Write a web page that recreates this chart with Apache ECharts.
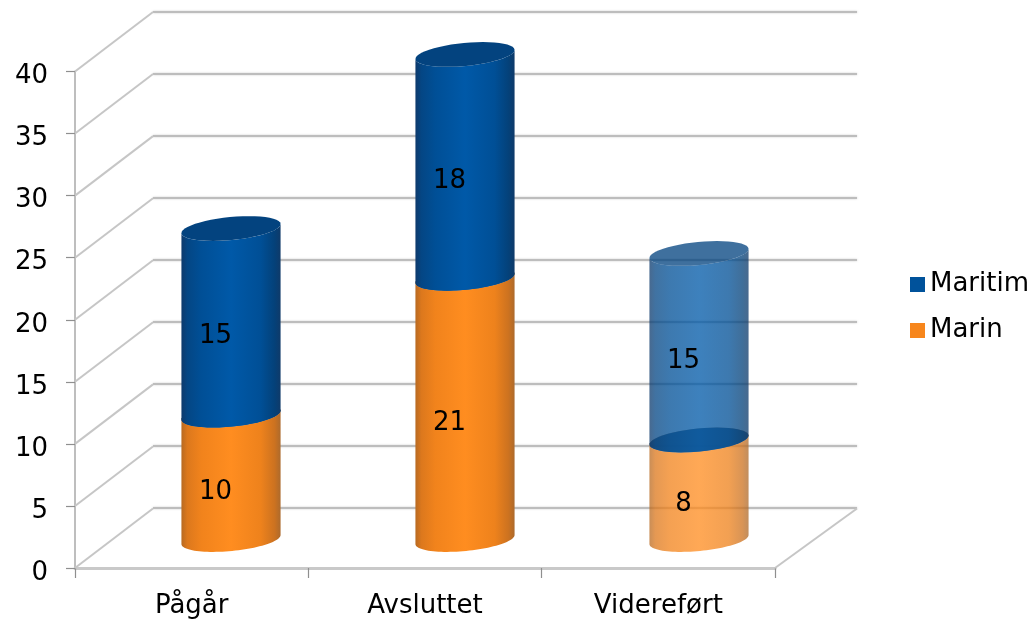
<!DOCTYPE html>
<html><head><meta charset="utf-8">
<style>html,body{margin:0;padding:0;background:#fff}#c{width:1034px;height:621px}</style>
<script src="https://cdn.jsdelivr.net/npm/echarts@6/dist/echarts.min.js"></script>
</head><body><div id="c"></div>
<script>
const categories = ['Pågår', 'Avsluttet', 'Videreført'];
const marin = [10, 21, 8];
const maritim = [15, 18, 15];
const ticks = [0, 5, 10, 15, 20, 25, 30, 35, 40];
const faded = [false, false, true];

const FONT = '"DejaVu Sans", Verdana, sans-serif';
const DEPTH_X = 78, DEPTH_Y = -59.5;
const RX = 49.8, RY = 11.5, TILT = -5.5 * Math.PI / 180;

function ellipsePt(cx, cy, a) {
  const x = RX * Math.cos(a), y = RY * Math.sin(a);
  return [cx + x * Math.cos(TILT) - y * Math.sin(TILT), cy + x * Math.sin(TILT) + y * Math.cos(TILT)];
}
function arcPts(cx, cy, from, to) {
  const n = 48, out = [];
  for (let i = 0; i <= n; i++) out.push(ellipsePt(cx, cy, from + (to - from) * i / n));
  return out;
}
function grad(stops) {
  return { type: 'linear', x: 0, y: 0, x2: 1, y2: 0, colorStops: stops.map(s => ({ offset: s[0], color: s[1] })) };
}
const bluePal = {
  body: grad([[0, '#0e3a6c'], [0.06, '#044684'], [0.2, '#004f96'], [0.5, '#0059a8'], [0.8, '#004f96'], [0.94, '#044179'], [1, '#0f3a69']]),
  cap: '#03437f'
};
const orangePal = {
  body: grad([[0, '#b86a22'], [0.06, '#dc781d'], [0.2, '#f1831c'], [0.5, '#ff8d20'], [0.8, '#ee821c'], [0.94, '#cc7220'], [1, '#ad6a2c']]),
  cap: '#ee8a2c'
};

function cylinder(pal) {
  return function (params, api) {
    const i = api.value(0), start = api.value(1), end = api.value(2);
    const b = api.coord([i, start]), t = api.coord([i, end]);
    const opacity = faded[i] ? 0.76 : 1;
    const cx = b[0];
    const children = [];
    if (start > 0) {
      children.push({ type: 'polygon', shape: { points: arcPts(cx, b[1], 0, Math.PI * 2) },
        style: { fill: '#0a4a86', opacity: opacity } });
    }
    // Body: upper edge follows the front arc of the top face, lower edge the front arc of the base.
    const outline = arcPts(cx, t[1], Math.PI, 0).concat(arcPts(cx, b[1], 0, Math.PI));
    children.push({ type: 'polygon', shape: { points: outline }, style: { fill: pal.body, opacity: opacity } });
    children.push({ type: 'polygon', shape: { points: arcPts(cx, t[1], 0, Math.PI * 2) },
      style: { fill: pal.cap, opacity: opacity } });
    const mid = api.coord([i, (start + end) / 2]);
    children.push({ type: 'text', z2: 10, style: {
      text: String(end - start), x: cx - 15.5, y: mid[1] + 14.5, align: 'center', verticalAlign: 'middle',
      fill: '#000', font: '26px ' + FONT } });
    return { type: 'group', children: children };
  };
}

const chart = echarts.init(document.getElementById('c'), null, { renderer: 'canvas' });
chart.setOption({
  animation: false,
  backgroundColor: '#fff',
  legend: {
    data: ['Maritim', 'Marin'], orient: 'vertical', left: 910, top: 271.5, itemWidth: 15, itemHeight: 15, icon: 'rect',
    itemGap: 20, padding: 0, selectedMode: false,
    textStyle: { fontFamily: FONT, fontSize: 26, color: '#000' }
  },
  grid: [
    { left: 75, width: 700, top: 71.5, height: 496.5 },
    { left: 153, width: 704, top: 12, height: 496 },
    { left: 114, width: 702, top: 42, height: 497.5 }
  ],
  xAxis: [
    { gridIndex: 0, type: 'category', data: categories, boundaryGap: true,
      axisLine: { lineStyle: { color: '#c9c9c9', width: 3 } },
      axisTick: { show: true, alignWithLabel: false, length: 10, lineStyle: { color: '#8f8f8f', width: 1.2 } },
      axisLabel: { fontFamily: FONT, fontSize: 26, color: '#000', margin: 25, interval: 0 } },
    { gridIndex: 1, type: 'category', data: categories, show: false },
    { gridIndex: 2, type: 'category', data: categories, show: false }
  ],
  yAxis: [
    { gridIndex: 0, type: 'value', min: 0, max: 40, interval: 5,
      axisLine: { show: true, lineStyle: { color: '#a8a8a8', width: 1.5 } },
      axisTick: { show: true, length: 9, lineStyle: { color: '#8f8f8f', width: 1.2 } },
      axisLabel: { fontFamily: FONT, fontSize: 26, color: '#000', margin: 27, verticalAlign: 'top', lineHeight: 10,
        formatter: v => (ticks.includes(v) ? String(v) : '') },
      splitLine: { show: false } },
    { gridIndex: 1, type: 'value', min: 0, max: 40, interval: 5,
      axisLine: { show: false }, axisTick: { show: false }, axisLabel: { show: false },
      splitLine: { show: true, lineStyle: { color: '#bdbdbd', width: 2, shadowColor: 'rgba(150,150,150,0.5)', shadowBlur: 2 } } },
    { gridIndex: 2, type: 'value', min: 0, max: 40, interval: 5, show: false }
  ],
  series: [
    { type: 'custom', xAxisIndex: 0, yAxisIndex: 0, silent: true, z: 1,
      data: ticks.map(v => [0, v]),
      renderItem: function (params, api) {
        const y = api.coord([0, api.value(1)])[1];
        const x = params.coordSys.x;
        const lines = [{ type: 'line', shape: { x1: x, y1: y, x2: x + DEPTH_X, y2: y + DEPTH_Y },
          style: { stroke: '#c6c6c6', lineWidth: 2 } }];
        if (api.value(1) === 0) {
          const xr = x + params.coordSys.width;
          lines.push({ type: 'line', shape: { x1: xr, y1: y, x2: xr + DEPTH_X + 4, y2: y + DEPTH_Y },
            style: { stroke: '#c6c6c6', lineWidth: 2 } });
        }
        return { type: 'group', children: lines };
      } },
    { type: 'custom', name: 'Marin', xAxisIndex: 2, yAxisIndex: 2, silent: true, z: 3,
      itemStyle: { color: '#f7861c' }, encode: { x: 0, y: [1, 2] },
      data: marin.map((v, i) => [i, 0, v]), renderItem: cylinder(orangePal) },
    { type: 'custom', name: 'Maritim', xAxisIndex: 2, yAxisIndex: 2, silent: true, z: 4,
      itemStyle: { color: '#00529b' }, encode: { x: 0, y: [1, 2] },
      data: maritim.map((v, i) => [i, marin[i], marin[i] + v]), renderItem: cylinder(bluePal) }
  ]
});
</script></body></html>
